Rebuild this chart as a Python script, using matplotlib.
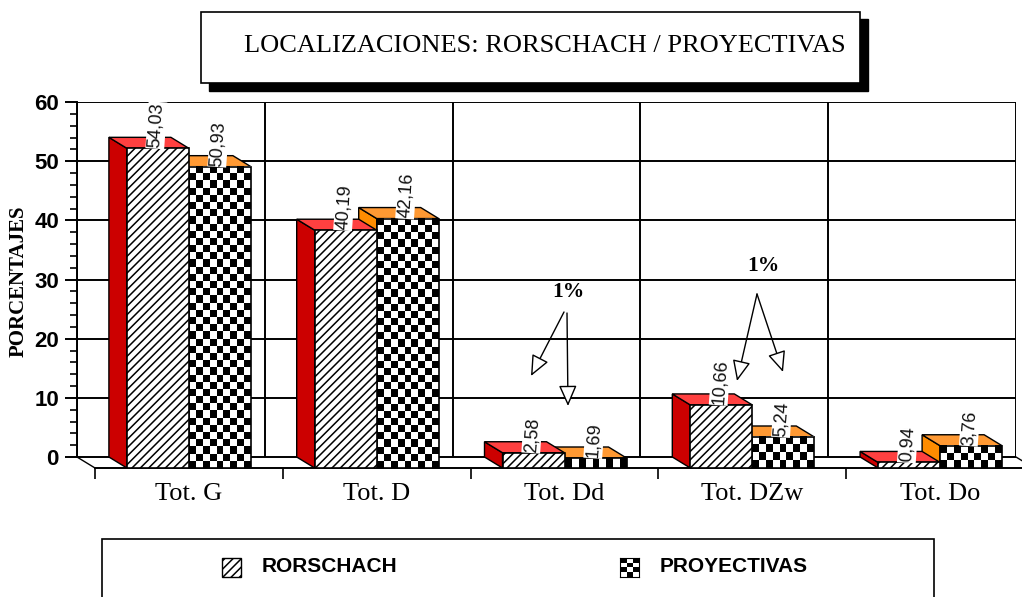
import numpy as np
import matplotlib
matplotlib.use("Agg")
import matplotlib.pyplot as plt
from matplotlib.patches import Polygon, Rectangle

categories = ["Tot. G", "Tot. D", "Tot. Dd", "Tot. DZw", "Tot. Do"]
rorschach = [54.03, 40.19, 2.58, 10.66, 0.94]
proyectivas = [50.93, 42.16, 1.69, 5.24, 3.76]
rorschach_labels = ["54,03", "40,19", "2,58", "10,66", "0,94"]
proyectivas_labels = ["50,93", "42,16", "1,69", "5,24", "3,76"]
y_ticks = [0, 10, 20, 30, 40, 50, 60]

W, H = 1022, 597
SERIF = "Liberation Serif"
SANS = "Liberation Sans"
plt.rcParams["hatch.linewidth"] = 1.1

# fake 3d depth, in data units
px_x = 939 / 5
px_y = 355 / 60
dx = 18 / px_x
dy = 11 / px_y
bar_w = 62 / px_x

fig = plt.figure(figsize=(W / 100, H / 100), dpi=100, facecolor="white")
ax = fig.add_axes([77 / W, 1 - 468 / H, 939 / W, 366 / H])
ax.set_facecolor("none")


def checker(a, x0, x1, y0, y1, cell=7.2, z=3):
    rows = max(1, int(round((y1 - y0) * px_y / cell)))
    cols = max(1, int(round((x1 - x0) * px_x / cell)))
    img = np.indices((rows, cols)).sum(axis=0) % 2
    a.imshow(img, extent=(x0, x1, y0, y1), origin="lower", aspect="auto", cmap="gray",
             vmin=0, vmax=1, interpolation="nearest", zorder=z)


def box3d(x0, value, side, top, z):
    # x0 = front left edge, value read on the back wall
    front_top = value - dy
    ax.add_patch(Polygon([(x0, -dy), (x0 - dx, 0), (x0 - dx, value), (x0, front_top)],
                         fc=side, ec="black", lw=1, zorder=z))
    ax.add_patch(Polygon([(x0, front_top), (x0 - dx, value), (x0 + bar_w - dx, value), (x0 + bar_w, front_top)],
                         fc=top, ec="black", lw=1, zorder=z))


pos = np.arange(len(categories)) + 0.5

# back wall grid
ax.hlines(y_ticks, 0, 5, color="black", lw=1.4, zorder=1)
ax.vlines(np.arange(6), 0, 60, color="black", lw=1.4, zorder=1)

for i in range(len(categories)):
    mid = pos[i] + dx
    # second series goes first, the first one hides its left part
    box3d(mid, proyectivas[i], "#ff8c00", "#ff9933", 3)
    checker(ax, mid, mid + bar_w, -dy, proyectivas[i] - dy, z=3.1)
    ax.bar(mid + bar_w / 2, proyectivas[i], bar_w, bottom=-dy, fc="none", ec="black", lw=1.2, zorder=3.2)
    box3d(mid - bar_w, rorschach[i], "#cc0000", "#ff4040", 4)
    ax.bar(mid - bar_w / 2, rorschach[i], bar_w, bottom=-dy, fc="white", ec="black", lw=1.2,
           hatch="////", zorder=4.1)
    for off, val, lab in [(-bar_w / 2, rorschach[i], rorschach_labels[i]),
                          (bar_w / 2, proyectivas[i], proyectivas_labels[i])]:
        ax.text(mid + off - 0.008, val - dy, lab, rotation=86, ha="center", va="bottom", fontsize=13,
                family=SANS, color="#111111", zorder=6,
                bbox=dict(fc="white", ec="none", pad=0.6))

for s in ["top", "right"]:
    ax.spines[s].set_visible(False)
ax.spines["left"].set_bounds(0, 60)
ax.spines["left"].set_linewidth(1.4)
ax.spines["bottom"].set_bounds(dx, 5 + dx)
ax.spines["bottom"].set_linewidth(1.4)
ax.plot([0, dx], [0, -dy], color="black", lw=1, clip_on=False, zorder=1)
ax.plot([5, 5 + dx], [0, -dy], color="black", lw=1, clip_on=False, zorder=1)

ax.set_yticks(y_ticks)
ax.set_yticks(np.arange(0, 61, 2), minor=True)
ax.tick_params(axis="y", which="major", length=9, width=1.4, labelsize=16, pad=4)
ax.tick_params(axis="y", which="minor", length=5, width=1.2)
for t in ax.get_yticklabels():
    t.set_family(SANS)
    t.set_weight("bold")
ax.set_xticks(np.arange(6) + dx)
ax.set_xticklabels([])
ax.set_xticks(pos + dx, categories, minor=True, family=SERIF, fontsize=19)
ax.tick_params(axis="x", which="major", length=8, width=1.2)
ax.tick_params(axis="x", which="minor", length=0, pad=11)
# set_xticks widens the limits, so these come last
ax.set_xlim(0, 5)
ax.set_ylim(-dy, 60)

# everything else placed in image pixels
over = fig.add_axes([0, 0, 1, 1], zorder=10)
over.set_xlim(0, W)
over.set_ylim(H, 0)
over.axis("off")

over.text(19, 281, "PORCENTAJES", rotation=90, ha="center", va="center", family=SERIF,
          weight="bold", fontsize=15)

# title box
over.add_patch(Rectangle((209, 19), 659, 72, fc="black", ec="black"))
over.add_patch(Rectangle((201, 12), 659, 71, fc="white", ec="black", lw=1.2))
over.text(545, 46, "LOCALIZACIONES: RORSCHACH / PROYECTIVAS", ha="center", va="center",
          family=SERIF, fontsize=19)

# legend box
over.add_patch(Rectangle((102, 539), 832, 70, fc="white", ec="black", lw=1.2))
over.add_patch(Rectangle((222, 558), 19, 19, fc="white", ec="black", lw=1, hatch="////"))
sw = fig.add_axes([620 / W, 1 - 577 / H, 19 / W, 19 / H], zorder=11)
sw.imshow(np.indices((4, 3)).sum(axis=0) % 2, cmap="gray", vmin=0, vmax=1, interpolation="nearest", aspect="auto")
sw.set_xticks([])
sw.set_yticks([])
over.text(262, 566, "RORSCHACH", ha="left", va="center", family=SANS, weight="bold", fontsize=15)
over.text(660, 566, "PROYECTIVAS", ha="left", va="center", family=SANS, weight="bold", fontsize=15)

# significance marks
over.text(568, 292, "1%", ha="center", va="center", family=SERIF, weight="bold", fontsize=15.5)
over.text(763, 266, "1%", ha="center", va="center", family=SERIF, weight="bold", fontsize=15.5)
arrows = [((564, 312), (531, 376)), ((567, 313), (568, 406)),
          ((757, 294), (737, 381)), ((757, 294), (783, 372))]
for start, end in arrows:
    over.annotate("", xy=end, xytext=start,
                  arrowprops=dict(arrowstyle="-|>,head_length=0.8,head_width=0.35", fc="white", ec="black",
                                  lw=1, shrinkA=0, shrinkB=0, mutation_scale=16))

fig.savefig("out.png", dpi=100)
